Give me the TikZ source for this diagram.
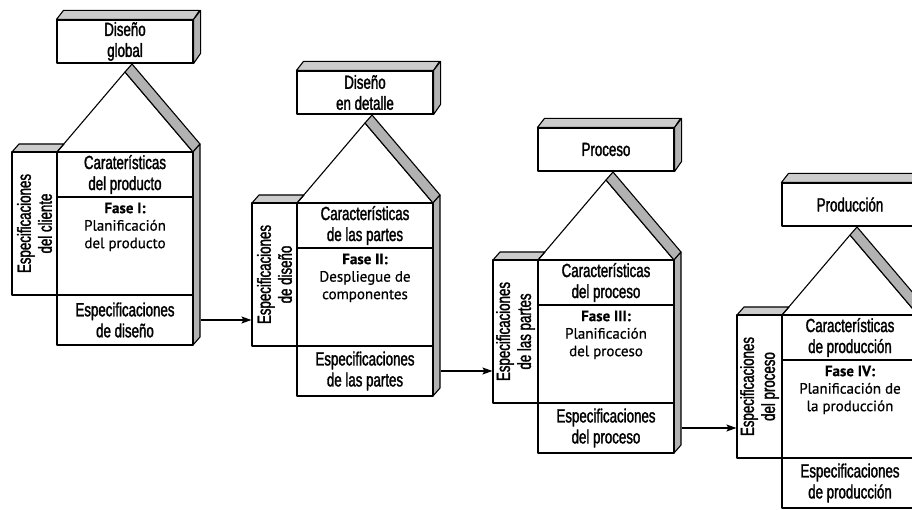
\documentclass[tikz,border=0pt]{standalone}
\usepackage{fontspec}
\setmainfont{Liberation Sans}[FakeStretch=0.7, FakeBold=1.6]
\newfontfamily\fasefont{PT Sans}[FakeBold=0.6]
\usetikzlibrary{positioning}
\usetikzlibrary{arrows.meta}
\tikzset{>={Stealth[length=10pt, width=7pt, inset=2pt]}}
\tikzset{lin/.style={line width=1.1pt, line join=round}}
\tikzset{cel/.style={lin, draw, fill=white, align=center, inner sep=2pt, font=\fontsize{19}{21}\selectfont}}
\tikzset{fas/.style={align=center, inner sep=0pt, font=\fasefont\fontsize{15}{17.5}\selectfont}}
\tikzset{som/.style={lin, draw, fill=gray!60}}
\tikzset{tap/.style={lin, draw, fill=gray!40}}

\begin{document}
\begin{tikzpicture}[x=1pt, y=-1pt]
  \useasboundingbox (0,0) rectangle (912,510);

  \foreach \i/\x/\y/\cab/\lat/\car/\fase/\esp in {
    1/57/152/{Diseño\\global}/{Especificaciones\\del cliente}/{Caraterísticas\\del producto}/{\textbf{Fase I:}\\Planificación\\del producto}/{Especificaciones\\de diseño},
    2/297/203/{Diseño\\en detalle}/{Especificaciones\\de diseño}/{Características\\de las partes}/{\textbf{Fase II:}\\Despliegue de\\componentes}/{Especificaciones\\de las partes},
    3/538/260/{Proceso}/{Especificaciones\\de las partes}/{Características\\del proceso}/{\textbf{Fase III:}\\Planificación\\del proceso}/{Especificaciones\\del proceso},
    4/782/315/{Producción}/{Especificaciones\\del proceso}/{Características\\de producción}/{\textbf{Fase IV:}\\Planificación de\\la producción}/{Especificaciones\\de producción}}
  {
    \begin{scope}[shift={(\x,\y)}]
      \node[cel, minimum width=136pt, minimum height=43pt] (cab\i) at (68,-110.5) {\cab};
      \filldraw[tap] (cab\i.north west) -- ++(7,-9) -- ++(136,0) -- (cab\i.north east) -- cycle;
      \filldraw[som] (cab\i.north east) -- ++(7,-9) -- ++(0,43) -- (cab\i.south east) -- cycle;

      \filldraw[tap] (-45,0) -- (-38,-8) -- (7,-8) -- (0,0) -- cycle;
      \draw[lin] (0,0) -- (68,-80) -- (136,0);
      \filldraw[som] (68,-80) -- (75,-88) -- (143,-8) -- (136,0) -- cycle;
      \filldraw[som] (136,0) -- (143,-8) -- (143,185) -- (136,193) -- cycle;

      \node[cel, minimum width=136pt, minimum height=45pt] (car\i) at (68,22.5) {\car};
      \node[cel, minimum width=136pt, minimum height=98pt] (fas\i) at (68,94) {};
      \node[fas, below=6pt of fas\i.north] (ft\i) {\fase};
      \node[cel, minimum width=136pt, minimum height=50pt] (esp\i) at (68,168) {\esp};
      \node[cel, rotate=90, minimum width=143pt, minimum height=45pt] (lat\i) at (-22.5,71.5) {\lat};
    \end{scope}
  }

  \foreach \i/\j in {1/2, 2/3, 3/4}
    \draw[lin, ->] ([xshift=7pt]esp\i.east) -- (esp\i.east -| lat\j.north);
\end{tikzpicture}
\end{document}
